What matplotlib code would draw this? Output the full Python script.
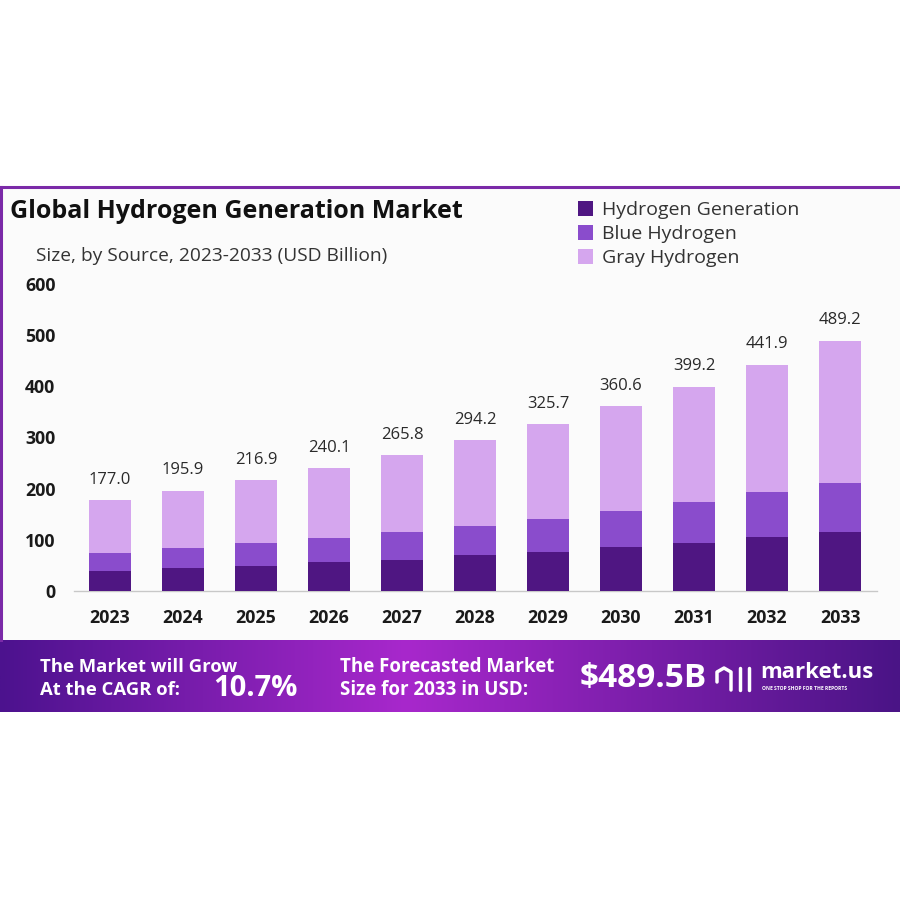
import matplotlib.pyplot as plt
from matplotlib.patches import Patch, Rectangle
import numpy as np

plt.rcParams['font.family'] = ['Open Sans', 'DejaVu Sans']

years = ['2023', '2024', '2025', '2026', '2027', '2028', '2029', '2030', '2031', '2032', '2033']
totals = [177.0, 195.9, 216.9, 240.1, 265.8, 294.2, 325.7, 360.6, 399.2, 441.9, 489.2]
hydrogen_gen = [39, 45, 49.5, 56, 60.7, 70, 77, 86, 94.5, 105, 116]
blue_h2 = [36, 40, 43.5, 47, 54, 57, 64, 71, 79.5, 88, 96]
gray_h2 = [t - a - b for t, a, b in zip(totals, hydrogen_gen, blue_h2)]

series = ['Hydrogen Generation', 'Blue Hydrogen', 'Gray Hydrogen']
colors = ['#4f1682', '#8a4ccc', '#d5a6ee']

fig = plt.figure(figsize=(9, 9), dpi=100)
fig.patch.set_facecolor('white')

W, H = 900, 900
def fx(px):
    return px / W
def fy(py):
    return 1 - py / H

# panel background with purple border (top + left)
bg = fig.add_axes([0, 0, 1, 1], zorder=-5)
bg.set_xlim(0, W)
bg.set_ylim(H, 0)
bg.axis('off')
bg.add_patch(Rectangle((0, 187), W, 453, facecolor='#fbfbfb', edgecolor='none'))
bg.plot([0, W], [187, 187], color='#7b2aa8', lw=2.2)
bg.plot([1, 1], [187, 640], color='#7b2aa8', lw=2.2)

# gradient banner at the bottom
grad_x = np.linspace(0, 1, 400)
r = np.interp(grad_x, [0, 0.45, 1], [0x4c, 0xa8, 0x4a]) / 255
g = np.interp(grad_x, [0, 0.45, 1], [0x12, 0x28, 0x14]) / 255
b = np.interp(grad_x, [0, 0.45, 1], [0x8e, 0xcc, 0x86]) / 255
img = np.stack([r, g, b], axis=-1)[None, :, :]
bg.imshow(img, extent=[0, W, 712, 640], aspect='auto', zorder=1)

# main chart
ax = fig.add_axes([fx(73.5), fy(591), fx(876.5) - fx(73.5), fy(284) - fy(591)])
ax.patch.set_alpha(0)
x = np.arange(len(years))
bw = 0.57
ax.bar(x, hydrogen_gen, bw, color=colors[0], zorder=3)
ax.bar(x, blue_h2, bw, bottom=hydrogen_gen, color=colors[1], zorder=3)
bottom2 = [a + b for a, b in zip(hydrogen_gen, blue_h2)]
ax.bar(x, gray_h2, bw, bottom=bottom2, color=colors[2], zorder=3)

for xi, t in zip(x, totals):
    ax.text(xi, t + 40, f'{t:.1f}', ha='center', va='center', fontsize=12, color='#2a2a2a')

ax.set_xlim(-0.5, 10.5)
ax.set_ylim(0, 600)
ax.set_yticks([0, 100, 200, 300, 400, 500, 600])
ax.set_xticks(x)
ax.set_xticklabels(years, fontsize=12.8, fontweight='bold', color='#1a1a1a')
for lab in ax.get_yticklabels():
    lab.set_fontsize(12.8)
    lab.set_fontweight('bold')
    lab.set_color('#1a1a1a')
ax.tick_params(axis='y', length=0, pad=13)
ax.tick_params(axis='x', length=0, pad=13)
for s in ['top', 'right', 'left']:
    ax.spines[s].set_visible(False)
ax.spines['bottom'].set_color('#c8c8c8')
ax.spines['bottom'].set_linewidth(1)

# titles
fig.text(fx(10), fy(212), 'Global Hydrogen Generation Market', fontsize=18, fontweight='bold',
         color='#111111', va='center', ha='left')
fig.text(fx(36), fy(256), 'Size, by Source, 2023-2033 (USD Billion)', fontsize=13.8,
         color='#333333', va='center', ha='left')

# legend
handles = [Patch(facecolor=c, edgecolor='none') for c in colors]
fig.legend(handles, series, loc='upper left', bbox_to_anchor=(fx(570), fy(193)), frameon=False,
           fontsize=14, handlelength=0.8, handleheight=0.8, handletextpad=0.45, labelspacing=0.3,
           labelcolor='#333333', borderaxespad=0)

# banner texts
fig.text(fx(40), fy(667), 'The Market will Grow', fontsize=13.3, fontweight='bold', color='white',
         va='center', ha='left')
fig.text(fx(40), fy(690), 'At the CAGR of:', fontsize=13.3, fontweight='bold', color='white',
         va='center', ha='left')
fig.text(fx(213), fy(689), '10.7%', fontsize=21, fontweight='bold', color='white',
         va='center', ha='left')
fig.text(fx(340), fy(667), 'The Forecasted Market', fontsize=13.5, fontweight='bold', color='white',
         va='center', ha='left')
fig.text(fx(340), fy(690), 'Size for 2033 in USD:', fontsize=13.5, fontweight='bold', color='white',
         va='center', ha='left')
fig.text(fx(580), fy(678), '$489.5B', fontsize=24, fontweight='bold', color='white',
         va='center', ha='left')

# logo
bg.plot([717, 717, 724, 731, 731], [682, 672, 668, 672, 690], color='white', lw=2.5, zorder=3,
        solid_capstyle='round')
bg.plot([740, 740], [668, 690], color='white', lw=2.5, zorder=3, solid_capstyle='round')
bg.plot([749, 749], [668, 690], color='white', lw=2.5, zorder=3, solid_capstyle='round')
fig.text(fx(760), fy(672), 'market.us', fontsize=16, fontweight='bold', color='white',
         va='center', ha='left')
fig.text(fx(762), fy(689), 'ONE STOP SHOP FOR THE REPORTS', fontsize=3.6, fontweight='bold',
         color='white', va='center', ha='left')

fig.savefig('out.png', dpi=100, facecolor='white')
